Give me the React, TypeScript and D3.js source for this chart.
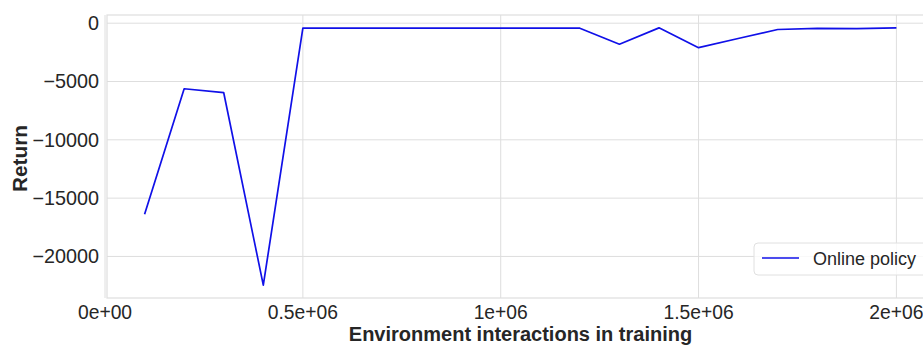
import React, { useEffect, useRef } from 'react';
import * as d3 from 'd3';

// environment interactions (x) and return of the online policy (y)
const steps = [1e5, 2e5, 3e5, 4e5, 5e5, 6e5, 7e5, 8e5, 9e5, 1e6, 1.1e6, 1.2e6, 1.3e6, 1.4e6, 1.5e6, 1.6e6, 1.7e6, 1.8e6, 1.9e6, 2e6];
const returns = [-16380, -5620, -5960, -22460, -430, -430, -430, -430, -430, -430, -430, -430, -1800, -400, -2100, -1310, -540, -450, -460, -400];
const xTicks = [0, 5e5, 1e6, 1.5e6, 2e6];
const xTickLabels = ['0e+00', '0.5e+06', '1e+06', '1.5e+06', '2e+06'];
const yTicks = [0, -5000, -10000, -15000, -20000];
const seriesName = 'Online policy';

const W = 923;
const H = 345;

const App = () => {
    const ref = useRef<SVGSVGElement>(null);

    useEffect(() => {
        document.body.style.margin = '0';
        const svg = d3.select(ref.current);
        svg.selectAll('*').remove();

        const left = 107, right = 934, top = 15, bottom = 298;

        // matplotlib style 5% margins
        const xPad = (d3.max(steps)! - d3.min(steps)!) * 0.05;
        const yPad = (d3.max(returns)! - d3.min(returns)!) * 0.05;
        const x = d3.scaleLinear()
            .domain([d3.min(steps)! - xPad, d3.max(steps)! + xPad])
            .range([left, right]);
        const y = d3.scaleLinear()
            .domain([d3.min(returns)! - yPad, d3.max(returns)! + yPad])
            .range([bottom, top]);

        const grid = '#dedede';
        const textColor = '#262626';
        const font = 'Liberation Sans, Arial, sans-serif';

        // grid
        svg.append('g').selectAll('line')
            .data(xTicks)
            .enter()
            .append('line')
            .attr('x1', d => x(d)).attr('x2', d => x(d))
            .attr('y1', top).attr('y2', bottom)
            .attr('stroke', grid).attr('stroke-width', 1);
        svg.append('g').selectAll('line')
            .data(yTicks)
            .enter()
            .append('line')
            .attr('x1', left).attr('x2', right)
            .attr('y1', d => y(d)).attr('y2', d => y(d))
            .attr('stroke', grid).attr('stroke-width', 1);

        // frame
        svg.append('rect')
            .attr('x', left).attr('y', top)
            .attr('width', right - left).attr('height', bottom - top)
            .attr('fill', 'none')
            .attr('stroke', grid).attr('stroke-width', 1.2);

        // tick labels
        svg.append('g').selectAll('text')
            .data(yTicks)
            .enter()
            .append('text')
            .attr('x', left - 8)
            .attr('y', d => y(d))
            .attr('dy', '0.35em')
            .attr('text-anchor', 'end')
            .attr('font-family', font)
            .attr('font-size', 19.8)
            .attr('fill', textColor)
            .text(d => d3.format('d')(d).replace('-', '\u2212'));
        svg.append('g').selectAll('text')
            .data(xTicks)
            .enter()
            .append('text')
            .attr('x', d => x(d))
            .attr('y', bottom + 20.5)
            .attr('text-anchor', 'middle')
            .attr('font-family', font)
            .attr('font-size', 19.3)
            .attr('fill', textColor)
            .text((d, i) => xTickLabels[i]);

        // axis titles
        svg.append('text')
            .attr('x', (left + right) / 2)
            .attr('y', 341)
            .attr('text-anchor', 'middle')
            .attr('font-family', font)
            .attr('font-weight', 'bold')
            .attr('font-size', 20)
            .attr('fill', textColor)
            .text('Environment interactions in training');
        svg.append('text')
            .attr('transform', `translate(27,${(top + bottom) / 2 + 2}) rotate(-90)`)
            .attr('text-anchor', 'middle')
            .attr('font-family', font)
            .attr('font-weight', 'bold')
            .attr('font-size', 20.8)
            .attr('fill', textColor)
            .text('Return');

        // series
        const line = d3.line<number>()
            .x((d, i) => x(steps[i]))
            .y(d => y(d));
        svg.append('path')
            .datum(returns)
            .attr('d', line)
            .attr('fill', 'none')
            .attr('stroke', '#1010e8')
            .attr('stroke-width', 1.7)
            .attr('stroke-linejoin', 'round');

        // legend
        const lg = svg.append('g').attr('transform', 'translate(754,243)');
        lg.append('rect')
            .attr('width', 190).attr('height', 32)
            .attr('rx', 4)
            .attr('fill', 'white')
            .attr('fill-opacity', 0.8)
            .attr('stroke', '#e0e0e0');
        lg.append('line')
            .attr('x1', 8).attr('x2', 45)
            .attr('y1', 15).attr('y2', 15)
            .attr('stroke', '#1010e8').attr('stroke-width', 1.7);
        lg.append('text')
            .attr('x', 59).attr('y', 16)
            .attr('dy', '0.35em')
            .attr('font-family', font)
            .attr('font-size', 18)
            .attr('fill', textColor)
            .text(seriesName);
    }, []);

    return (
        <svg ref={ref} width={W} height={H} style={{ display: 'block', background: 'white' }} />
    );
};

export default App;
